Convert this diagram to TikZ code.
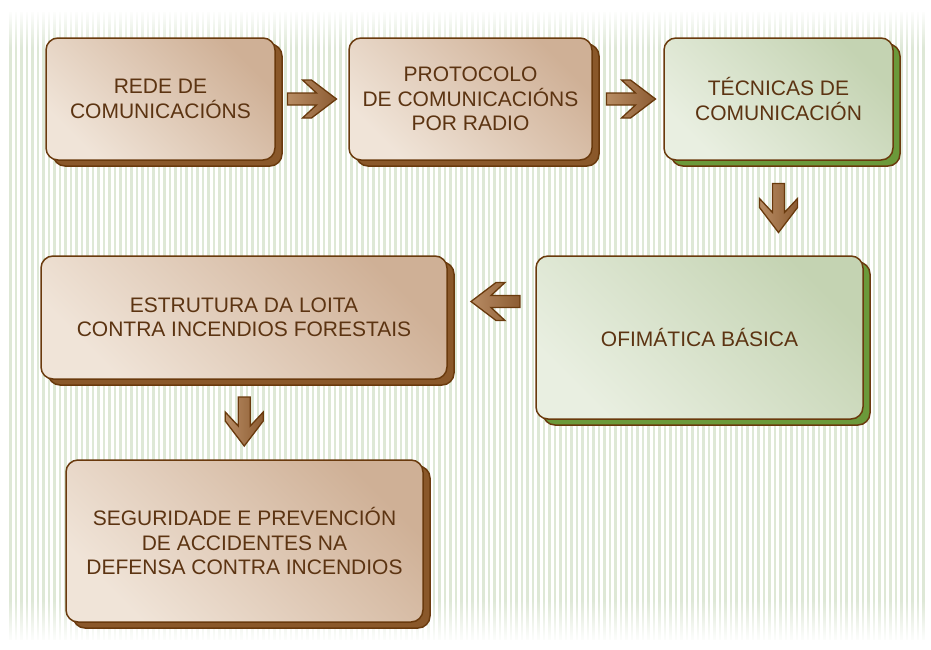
\documentclass[tikz,border=0pt]{standalone}
\usepackage{fontspec}
\setmainfont{Liberation Sans}
\usetikzlibrary{calc}
\usetikzlibrary{shadows}
\usetikzlibrary{fadings}
\definecolor{linebrown}{RGB}{106,58,13}
\definecolor{textbrown}{RGB}{92,52,18}
\definecolor{boxlight}{RGB}{240,228,216}
\definecolor{boxdark}{RGB}{207,176,150}
\definecolor{boxshadow}{RGB}{138,88,42}
\definecolor{greenlight}{RGB}{233,239,225}
\definecolor{greendark}{RGB}{196,211,178}
\definecolor{greenshadow}{RGB}{107,153,58}
\definecolor{stripe}{RGB}{222,232,214}
\definecolor{arrowlight}{RGB}{184,140,100}
\definecolor{arrowdark}{RGB}{140,92,50}

\tikzset{
  box/.style={draw=linebrown, line width=1.5pt, rounded corners=12pt, align=center,
    text=textbrown, font=\fontsize{21}{24.5}\selectfont, inner sep=0pt},
  brownbox/.style={box, top color=boxdark, bottom color=boxlight, shading angle=-45,
    copy shadow={shadow xshift=7pt, shadow yshift=-6pt, fill=boxshadow, draw=linebrown, line width=1.5pt}},
  greenbox/.style={box, top color=greendark, bottom color=greenlight, shading angle=-45,
    copy shadow={shadow xshift=7pt, shadow yshift=-6pt, fill=greenshadow, draw=linebrown, line width=1.5pt}},
  pics/blockarrow/.style={code={
    \draw[draw=linebrown, line width=1.3pt, left color=arrowlight, right color=arrowdark, line join=miter]
      (-24.5,-6) -- (4.5,-6) -- (-9.5,-19) -- (-0.5,-19) -- (24.5,0)
      -- (-0.5,19) -- (-9.5,19) -- (4.5,6) -- (-24.5,6) -- cycle;
  }}
}

\begin{document}
\begin{tikzpicture}[x=1pt,y=-1pt]
  \useasboundingbox (0,0) rectangle (931,649);
  \fill[white] (0,0) rectangle (931,649);
  \foreach \x in {9,14.5,...,925}{
    \fill[stripe] (\x,12) rectangle +(2.6,628);
  }
  \fill[white,path fading=south] (0,10) rectangle (931,48);
  \fill[white,path fading=north] (0,600) rectangle (931,642);

  \node[brownbox, minimum width=229pt, minimum height=122pt] (rede) at (160.5,99) {REDE DE\\COMUNICACIÓNS};
  \node[brownbox, minimum width=243pt, minimum height=122pt] (protocolo) at (470.5,99) {PROTOCOLO\\DE COMUNICACIÓNS\\POR RADIO};
  \node[greenbox, minimum width=229pt, minimum height=122pt] (tecnicas) at (778.5,99) {TÉCNICAS DE\\COMUNICACIÓN};
  \node[greenbox, minimum width=327pt, minimum height=163pt] (ofimatica) at (699.5,337.5) {OFIMÁTICA BÁSICA};
  \node[brownbox, minimum width=406pt, minimum height=123pt] (estrutura) at (244,317.5) {ESTRUTURA DA LOITA\\CONTRA INCENDIOS FORESTAIS};
  \node[brownbox, minimum width=357pt, minimum height=162pt] (seguridade) at (244.5,541) {SEGURIDADE E PREVENCIÓN\\DE ACCIDENTES NA\\DEFENSA CONTRA INCENDIOS};

  \pic at ($(rede.east)!.5!(protocolo.west)$) {blockarrow};
  \pic at ($(protocolo.east)!.5!(tecnicas.west)+(3,0)$) {blockarrow};
  \pic[rotate=-90] at ($(tecnicas.south)!.5!(tecnicas.south |- ofimatica.north)$) {blockarrow};
  \pic[rotate=180] at ($(estrutura.east)!.5!(ofimatica.west)+(4,-26)$) {blockarrow};
  \pic[rotate=-90] at ($(estrutura.south)!.5!(seguridade.north)+(0,2)$) {blockarrow};
\end{tikzpicture}
\end{document}
